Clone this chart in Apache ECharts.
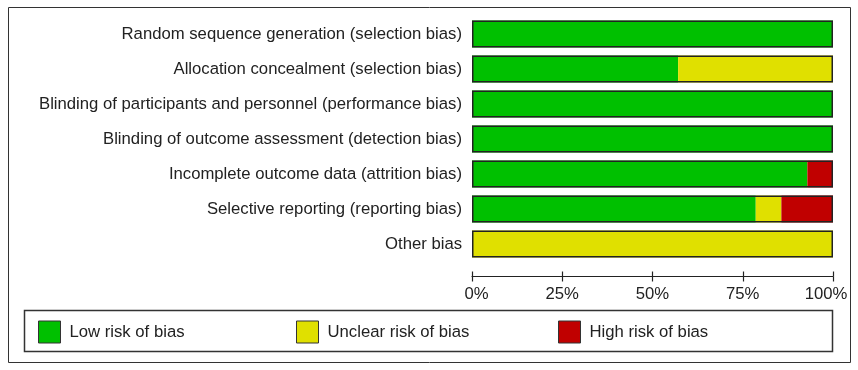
<!DOCTYPE html>
<html><head><meta charset="utf-8">
<script src="https://cdn.jsdelivr.net/npm/echarts@6/dist/echarts.min.js"></script>
<style>html,body{margin:0;padding:0;background:#fff}#c{width:858px;height:370px}</style>
</head><body><div id="c"></div>
<script>
const categories = [
  "Random sequence generation (selection bias)",
  "Allocation concealment (selection bias)",
  "Blinding of participants and personnel (performance bias)",
  "Blinding of outcome assessment (detection bias)",
  "Incomplete outcome data (attrition bias)",
  "Selective reporting (reporting bias)",
  "Other bias"
];
const lowRisk     = [100, 57.1, 100, 100, 92.9, 78.6, 0];
const unclearRisk = [0, 42.9, 0, 0, 0, 7.1, 100];
const highRisk    = [0, 0, 0, 0, 7.1, 14.3, 0];
const tickLabels  = ["0%", "25%", "50%", "75%", "100%"];
const seriesNames = ["Low risk of bias", "Unclear risk of bias", "High risk of bias"];
const colors = ["#00C000", "#E0E000", "#C00000"];

const totals = lowRisk.map((v, i) => v + unclearRisk[i] + highRisk[i]);
const FONT = "Liberation Sans, Arial, sans-serif";
const FS = 16.7;
const chart = echarts.init(document.getElementById('c'), null, {renderer: 'canvas'});

const xBase = {
  type: 'value', min: 0, max: 100, interval: 25, position: 'bottom', offset: 15,
  splitLine: {show: false}
};
chart.setOption({
  animation: false,
  grid: {left: 472, right: 25, top: 16.5, height: 245},
  xAxis: [
    Object.assign({}, xBase, {
      axisLine: {show: true, lineStyle: {color: '#222', width: 1.2}},
      axisTick: {show: true, inside: true, length: 5, lineStyle: {color: '#222', width: 1.2}},
      axisLabel: {show: true, margin: 9, color: '#222', fontFamily: FONT, fontSize: FS,
        formatter: v => {
          const i = Math.round(v / 25);
          if (i === 0) return '{l|' + tickLabels[i] + '}';
          if (i === 4) return '{r|' + tickLabels[i] + '}';
          return tickLabels[i];
        },
        rich: {
          l: {color: '#222', fontFamily: FONT, fontSize: FS, padding: [0, 0, 0, 9]},
          r: {color: '#222', fontFamily: FONT, fontSize: FS, padding: [0, 14, 0, 0]}
        }}
    }),
    Object.assign({}, xBase, {
      axisLine: {show: false},
      axisTick: {show: true, inside: false, length: 5, lineStyle: {color: '#222', width: 1.2}},
      axisLabel: {show: false}
    })
  ],
  yAxis: {
    type: 'category', data: categories, inverse: true,
    axisLine: {show: false}, axisTick: {show: false}, splitLine: {show: false},
    axisLabel: {margin: 10, color: '#222', fontFamily: FONT, fontSize: FS}
  },
  legend: seriesNames.map((n, i) => ({
    data: [n], left: [38, 296, 558][i], top: 320.5, itemWidth: 22, itemHeight: 22, icon: 'rect',
    itemStyle: {borderColor: '#333', borderWidth: 1},
    textStyle: {color: '#222', fontFamily: FONT, fontSize: FS, padding: [2, 0, 0, 4]},
    selectedMode: false, padding: 0
  })),
  graphic: [
    {type: 'rect', shape: {x: 8.5, y: 7.5, width: 842, height: 355}, style: {fill: 'none', stroke: '#333', lineWidth: 1}, z: -1},
    {type: 'rect', shape: {x: 24.5, y: 310.5, width: 808, height: 41}, style: {fill: 'none', stroke: '#333', lineWidth: 1.5}, z: -1}
  ],
  series: [
    ...[lowRisk, unclearRisk, highRisk].map((d, i) => ({
      name: seriesNames[i], type: 'bar', stack: 'r', data: d, barWidth: 27,
      itemStyle: {color: colors[i]}, xAxisIndex: 0
    })),
    {
      name: 'frame', type: 'bar', stack: 'f', data: totals, barWidth: 27, barGap: '-100%',
      itemStyle: {color: 'rgba(0,0,0,0)', borderColor: '#222', borderWidth: 1.5}, z: 5, xAxisIndex: 0
    }
  ]
});
</script></body></html>
